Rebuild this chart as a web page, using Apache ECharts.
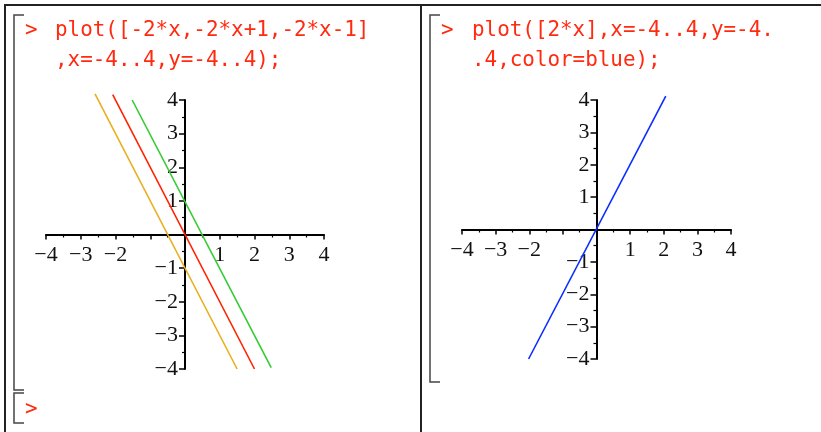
<!DOCTYPE html>
<html>
<head>
<meta charset="utf-8">
<script src="https://cdn.jsdelivr.net/npm/echarts/dist/echarts.min.js"></script>
<style>
  html, body { margin: 0; padding: 0; background: #fff; }
  #chart { width: 821px; height: 432px; }
</style>
</head>
<body>
<div id="chart"></div>
<script>
// tick labels (index = value + 4), blanks where Maple left them out
var xTickLabels = ['\u22124', '\u22123', '\u22122', '', '', '1', '2', '3', '4'];
var yTickLabels = ['\u22124', '\u22123', '\u22122', '\u22121', '', '1', '2', '3', '4'];

// left plot: -2*x, -2*x+1, -2*x-1 (end points)
var redLine = [[-2.08, 4.16], [2.0, -4.0]];
var greenLine = [[-1.52, 4.0], [2.48, -3.96]];
var orangeLine = [[-2.59, 4.18], [1.5, -4.0]];
// right plot: 2*x
var blueLine = [[-2.02, -4.0], [2.06, 4.12]];

var cmdLeft = ['plot([-2*x,-2*x+1,-2*x-1]', ',x=-4..4,y=-4..4);'];
var cmdRight = ['plot([2*x],x=-4..4,y=-4.', '.4,color=blue);'];

var red = '#ff2a10';
var mono = '20.9px "DejaVu Sans Mono", monospace';

var grids = [
  { left: 46, top: 100, width: 278, height: 269 },
  { left: 462, top: 100, width: 269, height: 259 }
];

// axes drawn through the origin (centre of each grid) by moving them inward
function xAx(gi) {
  return {
    type: 'value', gridIndex: gi, min: -4, max: 4, interval: 1,
    position: 'bottom', offset: -grids[gi].height / 2,
    axisLine: { onZero: false, lineStyle: { color: '#000', width: 2 } },
    axisTick: { length: 5, lineStyle: { color: '#000', width: 1.5 } },
    minorTick: { show: true, splitNumber: 2, length: 3, lineStyle: { color: '#000', width: 1.2 } },
    splitLine: { show: false },
    axisLabel: {
      showMinLabel: true, showMaxLabel: true, hideOverlap: false,
      color: '#111', fontFamily: 'Liberation Serif', fontSize: 22, margin: 10,
      formatter: function (v) { return xTickLabels[Math.round(v) + 4]; }
    }
  };
}
function yAx(gi) {
  return {
    type: 'value', gridIndex: gi, min: -4, max: 4, interval: 1,
    position: 'left', offset: -grids[gi].width / 2,
    axisLine: { onZero: false, lineStyle: { color: '#000', width: 2 } },
    axisTick: { length: 6, lineStyle: { color: '#000', width: 1.5 } },
    minorTick: { show: true, splitNumber: 2, length: 3, lineStyle: { color: '#000', width: 1.2 } },
    splitLine: { show: false },
    axisLabel: {
      showMinLabel: true, showMaxLabel: true, hideOverlap: false,
      color: '#111', fontFamily: 'Liberation Serif', fontSize: 22, margin: 7,
      formatter: function (v) { return yTickLabels[Math.round(v) + 4]; }
    }
  };
}
function lineSeries(gi, data, color) {
  return {
    type: 'line', xAxisIndex: gi, yAxisIndex: gi, data: data,
    symbol: 'none', clip: false, silent: true,
    lineStyle: { color: color, width: 1.6 }
  };
}
function txt(x, y, s) {
  return { type: 'text', style: { x: x, y: y, text: s, font: mono, fill: red, verticalAlign: 'middle' } };
}
function bracket(x, y1, y2) {
  return {
    type: 'polyline',
    shape: { points: [[x + 10, y1], [x, y1], [x, y2], [x + 10, y2]] },
    style: { stroke: '#444', lineWidth: 1.5, fill: null }
  };
}
function rule(x1, y1, x2, y2) {
  return { type: 'line', shape: { x1: x1, y1: y1, x2: x2, y2: y2 }, style: { stroke: '#222', lineWidth: 2 } };
}

var chart = echarts.init(document.getElementById('chart'));
chart.setOption({
  animation: false,
  backgroundColor: '#fff',
  grid: grids,
  xAxis: [xAx(0), xAx(1)],
  yAxis: [yAx(0), yAx(1)],
  series: [
    lineSeries(0, orangeLine, '#e8b020'),
    lineSeries(0, redLine, '#ff2200'),
    lineSeries(0, greenLine, '#33cc33'),
    lineSeries(1, blueLine, '#0a2cff')
  ],
  graphic: [
    rule(4, 5, 821, 5),
    rule(5, 5, 5, 432),
    rule(421, 5, 421, 432),
    bracket(14, 15, 390),
    bracket(14, 393, 423),
    bracket(430, 15, 382),
    txt(25, 31, '>'),
    txt(55, 31, cmdLeft[0]),
    txt(55, 61, cmdLeft[1]),
    txt(25, 410, '>'),
    txt(441, 31, '>'),
    txt(472, 31, cmdRight[0]),
    txt(472, 61, cmdRight[1])
  ]
});
</script>
</body>
</html>
